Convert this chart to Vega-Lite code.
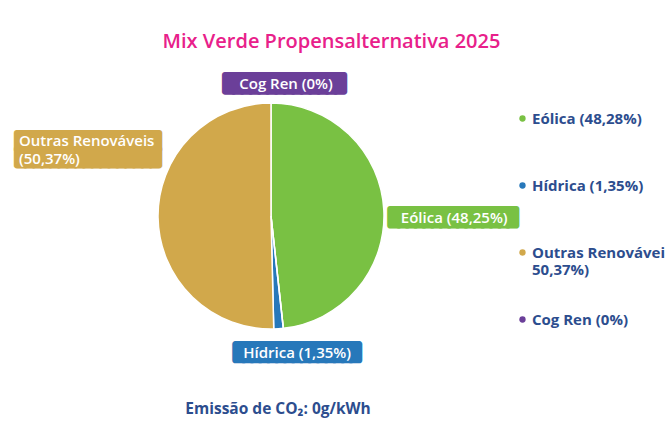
{
  "$schema": "https://vega.github.io/schema/vega-lite/v6.json",
  "padding": {"left": 17, "top": 31, "right": 0, "bottom": 0},
  "background": "#ffffff",
  "title": {"text": "Mix Verde Propensalternativa 2025", "font": "Open Sans", "fontSize": 20, "fontWeight": 600, "color": "#e8208a", "anchor": "middle", "offset": 9.5, "dx": -43},
  "config": {"view": {"stroke": null}},
  "vconcat": [
    {
      "width": 460,
      "height": 310,
      "title": {"text": "Emissão de CO₂: 0g/kWh", "orient": "bottom", "anchor": "middle", "font": "Open Sans", "fontSize": 15.5, "fontWeight": 700, "color": "#2c4d8e", "offset": 31, "dx": 7},
      "data": {"values": [
        {"cat": "Eólica", "value": 48.25, "label": "Eólica (48,25%)", "legend": "Eólica (48,28%)"},
        {"cat": "Hídrica", "value": 1.35, "label": "Hídrica (1,35%)", "legend": "Hídrica (1,35%)"},
        {"cat": "Outras Renováveis", "value": 50.37, "label": "Outras Renováveis\n(50,37%)", "legend": "Outras Renováveis (\n50,37%)"},
        {"cat": "Cog Ren", "value": 0, "label": "Cog Ren (0%)", "legend": "Cog Ren (0%)"}
      ]},
      "transform": [
        {"stack": "value", "groupby": [], "sort": [{"field": "cat", "order": "ascending"}], "as": ["v0", "v1"]},
        {"calculate": "(datum.v0 + datum.v1) / 2", "as": "mid"}
      ],
      "layer": [
        {
          "mark": {"type": "arc", "outerRadius": 113, "stroke": "#ffffff", "strokeWidth": 1.5},
          "encoding": {
            "theta": {"field": "value", "type": "quantitative", "stack": true},
            "order": {"field": "v0", "type": "quantitative"},
            "color": {
              "field": "legend", "type": "nominal",
              "scale": {"domain": ["Eólica (48,28%)", "Hídrica (1,35%)", "Outras Renováveis (\n50,37%)", "Cog Ren (0%)"], "range": ["#79c143", "#2778ba", "#d1a84b", "#6b3f99"]},
              "legend": {"title": null, "orient": "right", "offset": -52, "padding": 50, "rowPadding": 34, "gridAlign": "all", "symbolType": "circle", "symbolSize": 40, "symbolStrokeWidth": 0, "labelFont": "Open Sans", "labelFontWeight": 700, "labelFontSize": 15, "labelColor": "#2c4d8e", "labelLimit": 400, "labelOffset": 2, "labelExpr": "split(datum.label, '\\n')"}
            }
          }
        },
        {
          "transform": [{"filter": "datum.cat === 'Cog Ren'"}],
          "mark": {"type": "text", "text": "██████████████", "radius": 132, "dx": 13.5, "align": "center", "baseline": "middle", "font": "DejaVu Sans Mono", "fontSize": 14.12, "fill": "#6b3f99", "stroke": "#6b3f99", "strokeWidth": 6, "strokeJoin": "round"},
          "encoding": {"theta": {"field": "mid", "type": "quantitative"}}
        },
        {
          "transform": [{"filter": "datum.cat === 'Cog Ren'"}],
          "mark": {"type": "text", "radius": 132, "dx": 15, "align": "center", "baseline": "middle", "font": "Open Sans", "fontWeight": 600, "fontSize": 15, "fill": "#ffffff"},
          "encoding": {"theta": {"field": "mid", "type": "quantitative"}, "text": {"field": "label"}}
        },
        {
          "transform": [{"filter": "datum.cat === 'Eólica'"}],
          "mark": {"type": "text", "text": "███████████████", "radius": 182.5, "dy": 11.5, "align": "center", "baseline": "middle", "font": "DejaVu Sans Mono", "fontSize": 13.95, "fill": "#79c143", "stroke": "#79c143", "strokeWidth": 6, "strokeJoin": "round"},
          "encoding": {"theta": {"field": "mid", "type": "quantitative"}}
        },
        {
          "transform": [{"filter": "datum.cat === 'Eólica'"}],
          "mark": {"type": "text", "radius": 182.5, "dx": 1, "dy": 11.5, "align": "center", "baseline": "middle", "font": "Open Sans", "fontWeight": 600, "fontSize": 15, "fill": "#ffffff"},
          "encoding": {"theta": {"field": "mid", "type": "quantitative"}, "text": {"field": "label"}}
        },
        {
          "transform": [{"filter": "datum.cat === 'Hídrica'"}],
          "mark": {"type": "text", "text": "███████████████", "radius": 137.3, "dx": 17, "align": "center", "baseline": "middle", "font": "DejaVu Sans Mono", "fontSize": 13.73, "fill": "#2778ba", "stroke": "#2778ba", "strokeWidth": 6, "strokeJoin": "round"},
          "encoding": {"theta": {"field": "mid", "type": "quantitative"}}
        },
        {
          "transform": [{"filter": "datum.cat === 'Hídrica'"}],
          "mark": {"type": "text", "radius": 137.3, "dx": 17, "align": "center", "baseline": "middle", "font": "Open Sans", "fontWeight": 600, "fontSize": 15, "fill": "#ffffff"},
          "encoding": {"theta": {"field": "mid", "type": "quantitative"}, "text": {"field": "label"}}
        },
        {
          "transform": [{"filter": "datum.cat === 'Outras Renováveis'"}],
          "mark": {"type": "text", "text": "█████████████████\n█████████████████", "lineBreak": "\n", "lineHeight": 16.15, "radius": 183, "dy": -76, "align": "center", "baseline": "middle", "font": "DejaVu Sans Mono", "fontSize": 13.88, "fill": "#d1a84b", "stroke": "#d1a84b", "strokeWidth": 6, "strokeJoin": "round"},
          "encoding": {"theta": {"field": "mid", "type": "quantitative"}}
        },
        {
          "transform": [{"filter": "datum.cat === 'Outras Renováveis'"}],
          "mark": {"type": "text", "radius": 183, "dx": -69, "dy": -77, "align": "left", "baseline": "middle", "lineBreak": "\n", "lineHeight": 17.5, "font": "Open Sans", "fontWeight": 600, "fontSize": 15, "fill": "#ffffff"},
          "encoding": {"theta": {"field": "mid", "type": "quantitative"}, "text": {"field": "label"}}
        }
      ]
    }
  ]
}
